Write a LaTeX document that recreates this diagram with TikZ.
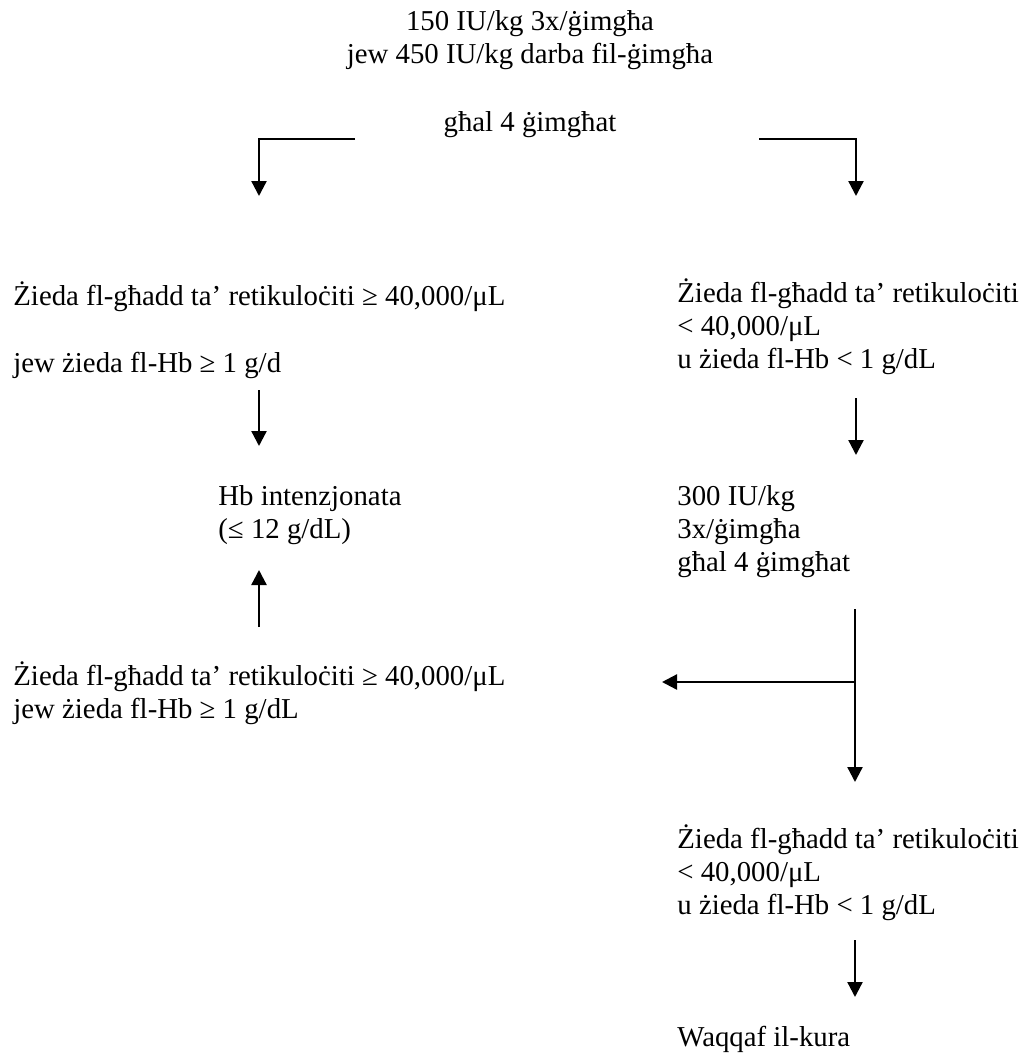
\documentclass[tikz,border=0pt]{standalone}
\usepackage{fontspec}
\setmainfont{Liberation Serif}
\usetikzlibrary{arrows.meta}

\begin{document}
\begin{tikzpicture}[x=0.5pt,y=-0.5pt,
            every node/.style={font=\fontsize{14.4}{16.5}\selectfont, inner sep=0pt},
            txt/.style={align=left, anchor=base west},
            arr/.style={-{Triangle[length=7.5pt,width=7.5pt]}, line width=1.15pt}]
            \useasboundingbox (0,0) rectangle (1029,1057);

            % multi-line nodes: base = last line
            \node[align=center, anchor=base] (top) at (530,131)
                {150 IU/kg 3x/ġimgħa\\ jew 450 IU/kg darba fil-ġimgħa\\[17.5pt] għal 4 ġimgħat};

            \node[txt] (l1) at (13,372) {Żieda fl-għadd ta’ retikuloċiti ≥ 40,000/μL\\[17pt]
                jew żieda fl-Hb ≥ 1 g/d};
            \node[txt] (hb) at (218,538) {Hb intenzjonata\\ (≤ 12 g/dL)};
            \node[txt] (l2) at (13,718) {Żieda fl-għadd ta’ retikuloċiti ≥ 40,000/μL\\
                jew żieda fl-Hb ≥ 1 g/dL};

            \node[txt] (r1) at (677,368) {Żieda fl-għadd ta’ retikuloċiti\\ < 40,000/μL\\
                u żieda fl-Hb < 1 g/dL};
            \node[txt] (dose) at (677,571) {300 IU/kg\\ 3x/ġimgħa\\ għal 4 ġimgħat};
            \node[txt] (r2) at (677,914) {Żieda fl-għadd ta’ retikuloċiti\\ < 40,000/μL\\
                u żieda fl-Hb < 1 g/dL};
            \node[txt] (stop) at (677,1046) {Waqqaf il-kura};

            % arrow ends
            \coordinate (a1) at (355,139);  \coordinate (a2) at (259,139);  \coordinate (a3) at (259,196);
            \coordinate (b1) at (759,139);  \coordinate (b2) at (856,139);  \coordinate (b3) at (856,196);
            \coordinate (c1) at (259,390);  \coordinate (c2) at (259,446);
            \coordinate (d1) at (856,398);  \coordinate (d2) at (856,455);
            \coordinate (e1) at (259,627);  \coordinate (e2) at (259,570);
            \coordinate (f1) at (855,609);  \coordinate (f2) at (855,682);  \coordinate (f3) at (855,782);
            \coordinate (f4) at (662,682);
            \coordinate (g1) at (855,940);  \coordinate (g2) at (855,997);

            \draw[arr] (a1) -- (a2) -- (a3);
            \draw[arr] (b1) -- (b2) -- (b3);
            \draw[arr] (c1) -- (c2);
            \draw[arr] (d1) -- (d2);
            \draw[arr] (e1) -- (e2);
            \draw[arr] (f1) -- (f3);
            \draw[arr] (f2) -- (f4);
            \draw[arr] (g1) -- (g2);

\end{tikzpicture}
\end{document}
